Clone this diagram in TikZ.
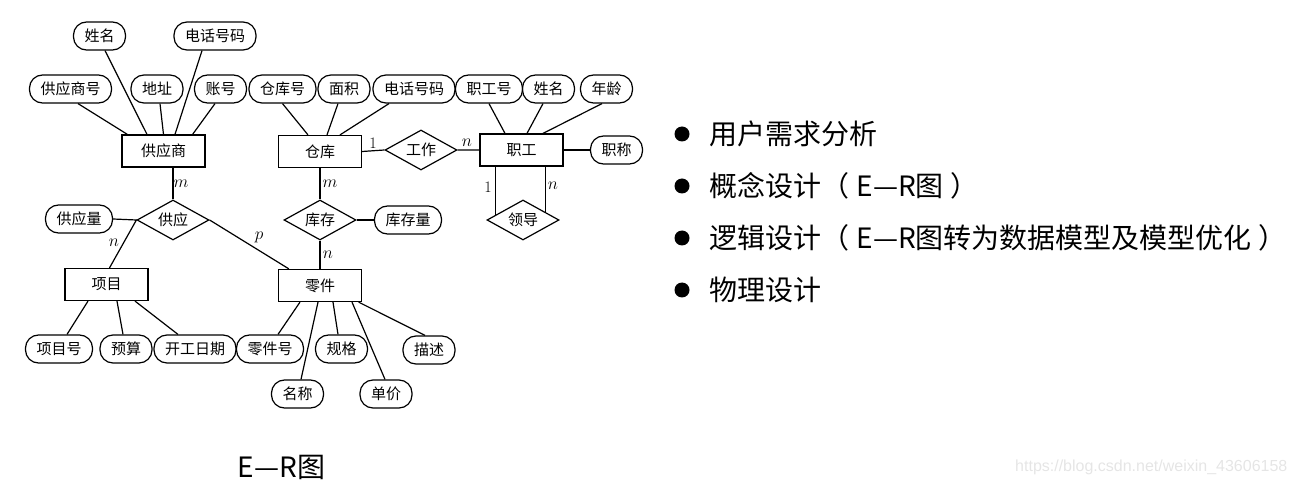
\documentclass[tikz,border=0pt]{standalone}
\usepackage{fontspec}
\usepackage{tikz}
\usetikzlibrary{shapes.geometric}
\newfontfamily\cjk{Noto Sans CJK SC}
\newfontfamily\wmfont{Liberation Sans}
\newcommand{\erfont}{\cjk\fontsize{15}{15}\selectfont}
\newcommand{\txtfont}{\cjk\fontsize{28}{30}\selectfont}
\newcommand{\pgap}{\hspace{.25em}}
\begin{document}
\begin{tikzpicture}[x=1pt,y=-1pt,line width=1.2pt,
 ent/.style={draw,minimum width=83pt,minimum height=32pt,inner sep=0pt,font=\erfont},
 att/.style={draw,rounded corners=13pt,minimum height=28pt,inner xsep=11pt,inner ysep=0pt,font=\erfont},
 rel/.style={draw,diamond,aspect=1.8,minimum width=72pt,minimum height=40pt,inner sep=0pt,font=\erfont},
 card/.style={inner sep=0pt,font=\fontsize{16}{16}\selectfont},
 dot/.style={circle,fill,minimum size=15pt,inner sep=0pt,line width=0pt},
 item/.style={anchor=west,inner sep=0pt,font=\txtfont}]
 \useasboundingbox (0,0) rectangle (1296,486);
 \node[ent] (gys) at (163.5,151) {供应商};
 \node[ent] (ck) at (320,151.5) {仓库};
 \node[ent] (zg) at (521.5,150) {职工};
 \node[ent] (xm) at (106.5,284.5) {项目};
 \node[ent] (lj) at (320,285.5) {零件};
 \node[rel] (gy) at (173,220) {供应};
 \node[rel] (gz) at (421,150) {工作};
 \node[rel] (kc) at (320,220) {库存};
 \node[rel] (ld) at (523,220) {领导};
 \node[att] (gysh) at (70.5,89) {供应商号};
 \node[att] (xming1) at (99.5,36) {姓名};
 \node[att] (dz) at (157,89) {地址};
 \node[att] (dh1) at (215,36) {电话号码};
 \node[att] (zh) at (220.5,89) {账号};
 \node[att] (ckh) at (282.5,89) {仓库号};
 \node[att] (mj) at (344,89) {面积};
 \node[att] (dh2) at (414,89) {电话号码};
 \node[att] (zgh) at (489,89) {职工号};
 \node[att] (xming2) at (548.5,89) {姓名};
 \node[att] (nl) at (606.5,89) {年龄};
 \node[att] (zc) at (616.5,150) {职称};
 \node[att] (kcl) at (408,220) {库存量};
 \node[att] (gyl) at (79,219) {供应量};
 \node[att] (xmh) at (59,349) {项目号};
 \node[att] (ys) at (126,349) {预算};
 \node[att] (kgrq) at (195,349) {开工日期};
 \node[att] (ljh) at (270,349) {零件号};
 \node[att] (gg) at (341.5,349) {规格};
 \node[att] (ms) at (429,350) {描述};
 \node[att] (mc) at (297.5,394) {名称};
 \node[att] (dj) at (386,394) {单价};
 \draw ([xshift=7.5pt]gysh.south) -- ([xshift=6pt]gys.north west);
 \draw ([xshift=5.5pt]xming1.south) -- ([xshift=-16.5pt]gys.north);
 \draw ([xshift=3pt]dz.south) -- (gys.north);
 \draw ([xshift=-13pt]dh1.south) -- ([xshift=11.5pt]gys.north);
 \draw ([xshift=-5.5pt]zh.south) -- ([xshift=-13pt]gys.north east);
 \draw (ckh.south) -- ([xshift=-12pt]ck.north);
 \draw ([xshift=-6pt]mj.south) -- ([xshift=7pt]ck.north);
 \draw ([xshift=-25pt]dh2.south) -- ([xshift=20pt]ck.north);
 \draw (zgh.south) -- ([xshift=-16.5pt]zg.north);
 \draw ([xshift=-5.5pt]xming2.south) -- ([xshift=5.5pt]zg.north);
 \draw ([xshift=-4.5pt]nl.south) -- ([xshift=21.5pt]zg.north);
 \draw (zg.east) -- (zc.west);
 \draw (ck.east) -- (gz.west) (gz.east) -- (zg.west);
 \draw (ck.south) -- (kc.north) (kc.south) -- (lj.north);
 \draw (kc.east) -- (kcl.west);
 \draw (gy.north) -- (gy.north |- gys.south);
 \draw (gyl.east) -- (gy.west) -- ([xshift=3pt]xm.north);
 \draw (gy.east) -- ([xshift=11pt]lj.north west);
 \draw (ld.169) -- (ld.169 |- zg.south) (ld.19) -- (ld.19 |- zg.south);
 \draw ([xshift=8pt]xmh.north) -- ([xshift=-18.5pt]xm.south);
 \draw ([xshift=-3pt]ys.north) -- ([xshift=10.5pt]xm.south);
 \draw ([xshift=-17pt]kgrq.north) -- ([xshift=28.5pt]xm.south);
 \draw ([xshift=8pt]ljh.north) -- ([xshift=-20pt]lj.south);
 \draw ([xshift=3.5pt]mc.north) -- ([xshift=-2pt]lj.south);
 \draw ([xshift=-3.5pt]gg.north) -- ([xshift=13pt]lj.south);
 \draw ([xshift=-1pt]dj.north) -- ([xshift=32pt]lj.south);
 \draw ([xshift=-4pt]ms.north) -- ([xshift=-3.5pt]lj.south east);
 \node[card] (m1) at (181,184) {$m$};
 \node[card] (m2) at (330,184) {$m$};
 \node[card] (one1) at (373,143) {1};
 \node[card] (n1) at (467,143) {$n$};
 \node[card] (one2) at (488,187) {1};
 \node[card] (n2) at (553,186) {$n$};
 \node[card] (n3) at (114,243) {$n$};
 \node[card] (p1) at (259,237) {$p$};
 \node[card] (n4) at (328,255) {$n$};
 \foreach \t [count=\i] in {用户需求分析,概念设计（\pgap E—R图\pgap ）,逻辑设计（\pgap E—R图转为数据模型及模型优化\pgap ）,物理设计}
  {\node[dot] (d\i) at (682,82+52*\i) {};
   \node[item] (t\i) at (709,82+52*\i) {\t};}
 \node[font=\txtfont,inner sep=0pt] (cap) at (281.5,467) {E—R图};
 \node[anchor=east,inner sep=0pt,text=black!10,font=\wmfont\fontsize{16}{16}\selectfont] (wm) at (1288,467) {https://blog.csdn.net/weixin\_43606158};
\end{tikzpicture}
\end{document}
